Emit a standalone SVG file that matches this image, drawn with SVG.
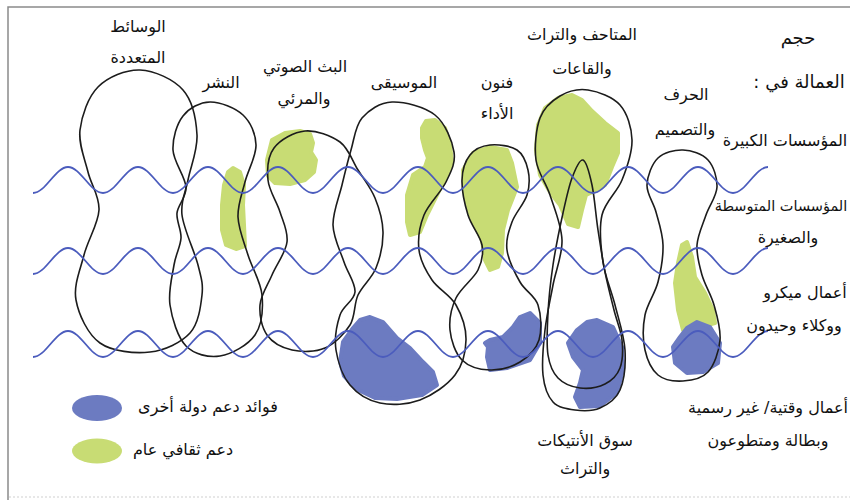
<svg xmlns="http://www.w3.org/2000/svg" width="850" height="500" viewBox="0 0 850 500">
<style>
.bg{fill:#ffffff}
.frame{fill:none;stroke:#8a8a8a;stroke-width:1.5}
.dots{fill:none;stroke:#d0d0d0;stroke-width:1.2;stroke-dasharray:2 2}
.shape{fill:none;stroke:#1c1c1c;stroke-width:1.6;stroke-linejoin:round}
.wave{fill:none;stroke:#4b5cbd;stroke-width:1.8}
.blue{fill:#6c7bc1;stroke:#6c7bc1;stroke-width:4;stroke-linejoin:round}
.green{fill:#c8dc74;stroke:#c8dc74;stroke-width:4;stroke-linejoin:round}
.lbl{font-family:'DejaVu Sans',sans-serif;font-size:16px;fill:#111111;text-anchor:middle;direction:rtl;unicode-bidi:embed}
.big{font-size:18px}
.sm{font-size:14.5px}
</style>
<defs>
<path id="wv" d="M33,13 C45.7,13 55.3,-13 68,-13 S90.3,13 103,13 S125.3,-13 138,-13 S160.3,13 173,13 S195.3,-13 208,-13 S230.3,13 243,13 S265.3,-13 278,-13 S300.3,13 313,13 S335.3,-13 348,-13 S370.3,13 383,13 S405.3,-13 418,-13 S440.3,13 453,13 S475.3,-13 488,-13 S510.3,13 523,13 S545.3,-13 558,-13 S580.3,13 593,13 S615.3,-13 628,-13 S650.3,13 663,13 S685.3,-13 698,-13 S720.3,13 733,13 S755.3,-13 768,-13"/>
</defs>
<rect class="bg" x="0" y="0" width="850" height="500"/>
<path class="frame" d="M851,7 H8 V500"/>
<path class="dots" d="M9,497 H850"/>

<g id="blobs">
<path class="green" d="M233,168 L240,172 L244,185 L243,205 L244,225 L245,246 L236,249 L226,245 L222,230 L222,205 L224,185 L228,172 Z"/>
<path class="green" d="M272,140 L285,133 L300,131 L310,134 L313,143 L311,152 L316,160 L314,172 L305,180 L290,184 L275,183 L268,176 L267,160 Z"/>
<path class="green" d="M426,121 L435,120 L445,128 L450,145 L452,162 L447,175 L437,195 L427,215 L420,232 L410,235 L407,222 L407,195 L413,175 L425,167 L428,158 L425,150 L422,138 L422,128 Z"/>
<path class="green" d="M490,147 L507,150 L512,163 L517,187 L512,200 L508,210 L503,230 L502,253 L498,267 L490,270 L485,260 L482,240 L472,220 L465,197 L463,170 L473,153 Z"/>
<path class="green" d="M545,108 L558,98 L572,95 L582,100 L592,111 L605,123 L618,133 L618,153 L612,167 L605,185 L597,190 L586,195 L582,210 L578,227 L568,224 L560,205 L550,192 L540,175 L536,150 L538,125 Z"/>
<path class="green" d="M687,242 L692,257 L695,277 L705,293 L713,310 L715,323 L700,327 L683,330 L678,310 L675,283 L678,263 L682,245 Z"/>
<path class="blue" d="M370,317 L383,322 L397,338 L410,348 L423,362 L433,372 L437,385 L422,395 L397,399 L375,398 L356,389 L344,376 L340,362 L343,342 L353,328 L360,320 Z"/>
<path class="blue" d="M530,313 L540,323 L540,343 L530,360 L507,368 L490,370 L487,357 L488,347 L485,343 L490,340 L503,337 L513,327 L520,317 Z"/>
<path class="blue" d="M597,320 L613,327 L622,347 L623,370 L617,393 L600,406 L580,407 L575,397 L580,383 L583,370 L573,357 L568,343 L577,330 L587,322 Z"/>
<path class="blue" d="M697,322 L710,327 L720,343 L718,363 L703,372 L687,373 L675,363 L673,347 L680,337 L687,328 Z"/>
</g>

<g id="node-multimedia">
<path class="shape" d="M140,70 C154.2,70.5 173.5,79.2 183,90 S196.2,120 197,135 S190.5,166.7 188,180 S180.3,200.8 182,215 S194.7,251.7 198,265 S203.3,283.7 202,295 S198.7,323.5 190,333 S165,350.3 150,352 S112.3,351.7 100,343 S78.7,314.7 76,300 S80.2,270 84,255 S98.3,223.8 99,210 S91.2,185.3 88,172 S78.3,144.2 80,130 S88,97 98,87 S125.8,69.5 140,70 Z"/>
<text class="lbl" x="138" y="32">الوسائط</text>
<text class="lbl" x="138" y="63">المتعددة</text>
</g>

<g id="node-publishing">
<path class="shape" d="M210,102 C220,101.8 235.3,107.8 243,115 S255.7,133.8 256,145 S248,170 245,182 S237.5,204.8 238,217 S244,242 248,255 S260.8,281.7 262,295 S262,324.8 255,335 S231.5,354.2 220,356 S194.3,354.5 186,346 S172,318.5 170,305 S172.2,276.2 174,265 S180.5,246.7 181,238 S176.2,221.5 177,213 S186.7,197.5 186,187 S173.5,161.8 173,150 S176.8,124 183,116 S200,102.2 210,102 Z"/>
<text class="lbl" x="221" y="88">النشر</text>
</g>

<g id="node-broadcast">
<path class="shape" d="M305,131 C316,130 331.2,135.5 340,142 S352.2,160.7 358,170 S370.8,187.7 375,198 S382.8,220.3 383,232 S380.2,257.5 376,268 S362.3,285.5 358,295 S355.5,316.2 350,325 S334.7,343.8 325,348 S301.7,352.2 292,350 S272.3,342.5 267,335 S259.2,315 260,305 S267.5,285.5 272,275 S285.7,252.5 287,242 S283.2,222.3 280,212 S269,190.7 268,180 S267.8,156.2 274,148 S294,132 305,131 Z"/>
<text class="lbl" x="305" y="72">البث الصوتي</text>
<text class="lbl" x="304" y="104">والمرئي</text>
</g>

<g id="node-music">
<path class="shape" d="M392,102 C404.2,101.5 424.7,106.7 435,115 S452.2,140.8 454,152 S451,171.5 446,182 S428.5,203.7 424,215 S417.7,239.2 419,250 S425.8,270.8 432,280 S450.3,295 456,305 S466.2,328.3 466,340 S462.7,365 455,375 S432.5,395.3 420,400 S391.7,405.5 380,403 S357.3,393.8 350,385 S337.7,361.7 336,350 S336.8,324.7 340,315 S354.3,300.8 355,292 S347.7,273.2 344,262 S333.3,237.8 333,225 S339,197.5 342,185 S347.7,161.2 351,150 S355.2,126 362,118 S379.8,102.5 392,102 Z"/>
<text class="lbl" x="404" y="88">الموسيقى</text>
</g>

<g id="node-performing">
<path class="shape" d="M490,145 C497.8,144.2 510.7,145.8 517,150 S526.3,162.5 528,170 S529.7,186.3 527,195 S515.3,212.8 512,222 S505.7,240 507,250 S514.8,272.8 520,282 S534.8,295.3 538,305 S542,330.5 539,340 S528.2,357 520,362 S499.7,370.3 490,370 S468.7,366.7 462,360 S451,340.3 450,330 S451.3,308 456,298 S473.7,278.8 478,270 S483.7,254.2 482,245 S471.3,225.8 468,215 S461.7,190 462,180 S465.3,160.8 470,155 S482.2,145.8 490,145 Z"/>
<text class="lbl" x="497" y="88">فنون</text>
<text class="lbl" x="497" y="119">الأداء</text>
</g>

<g id="node-museums">
<path class="shape" d="M588,90 C598,91.5 612.7,96.7 620,105 S631.7,127.5 632,140 S627,167.5 622,180 S605.2,201.3 602,215 S600.8,247 603,262 S611.3,290.3 615,305 S624.2,335.8 625,350 S624.2,380.3 620,390 S607.5,404.7 600,408 S582.8,411 575,410 S558.3,407.8 553,402 S544.3,387 543,375 S543.3,345 545,330 S550.2,300 553,285 S562.5,255 562,240 S554.3,208.3 550,195 S537.7,172.8 536,160 S536,128.7 540,118 S552,100.7 560,96 S578,88.5 588,90 Z"/>
<text class="lbl" x="582" y="40">المتاحف والتراث</text>
<text class="lbl" x="582" y="74">والقاعات</text>
</g>

<g id="node-antiques">
<path class="shape" d="M583,160 C586.3,161.2 589.5,173.3 592,185 S595.8,215.5 598,230 S602.3,258.7 605,272 S611.2,298.7 614,310 S621,330.3 622,340 S622.8,360.7 620,368 S611.7,380.7 605,384 S587.8,389 580,388 S563.3,383.5 558,378 S549.7,365.8 548,355 S547.2,328 548,313 S550.5,281.7 553,265 S559.8,227.5 563,213 S568.7,186.8 572,178 S579.7,158.8 583,160 Z"/>
<text class="lbl" x="585" y="446">سوق الأنتيكات</text>
<text class="lbl" x="585" y="474">والتراث</text>
</g>

<g id="node-crafts">
<path class="shape" d="M683,150 C691.3,150.3 702.3,153.8 708,160 S717.3,177.8 717,187 S709.3,205.3 706,215 S697.7,235 697,245 S699.2,265 702,275 S711,294.2 714,305 S721,328.8 720,340 S714.2,365.2 708,372 S691.3,380.5 683,381 S664.3,380.2 658,375 S647.2,360 645,350 S642.8,326.3 645,315 S655,293.7 658,282 S663.3,256.7 663,245 S658.7,222 656,212 S646.7,194 647,185 S652,163.8 658,158 S674.7,149.7 683,150 Z"/>
<text class="lbl" x="686" y="100">الحرف</text>
<text class="lbl" x="685" y="135">والتصميم</text>
</g>

<g id="connectors">
<use href="#wv" class="wave" transform="translate(0,180)"/>
<use href="#wv" class="wave" transform="translate(0,261)"/>
<use href="#wv" class="wave" transform="translate(0,344)"/>
</g>

<g id="scale-labels">
<text class="lbl big" x="798" y="44">حجم</text>
<text class="lbl big" x="799" y="88">العمالة في :</text>
<text class="lbl" x="785" y="146">المؤسسات الكبيرة</text>
<text class="lbl sm" x="781" y="211">المؤسسات المتوسطة</text>
<text class="lbl" x="788" y="243">والصغيرة</text>
<text class="lbl" x="805" y="298">أعمال ميكرو</text>
<text class="lbl" x="794" y="331">ووكلاء وحيدون</text>
<text class="lbl" x="768" y="413">أعمال وقتية/ غير رسمية</text>
<text class="lbl" x="768" y="446">وبطالة ومتطوعون</text>
</g>

<g id="legend">
<ellipse cx="97" cy="408" rx="25" ry="13" fill="#6c7bc1"/>
<ellipse cx="97" cy="451" rx="25" ry="12.5" fill="#c8dc74"/>
<text class="lbl" x="208" y="412">فوائد دعم دولة أخرى</text>
<text class="lbl" x="183" y="455">دعم ثقافي عام</text>
</g>
</svg>
